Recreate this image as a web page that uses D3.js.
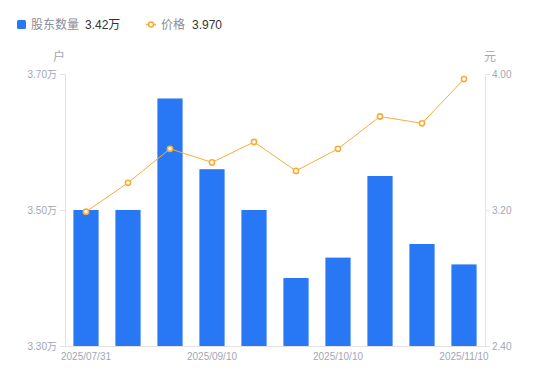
<!DOCTYPE html>
<html>
<head>
  <meta charset="utf-8">
  <title>股东数量</title>
  <script src="https://d3js.org/d3.v7.min.js"></script>
  <style>
    body {
      margin: 0;
      padding: 0;
      background: #fff;
    }
    svg {
      font-family: "Liberation Sans", Arial, "Noto Sans CJK SC", sans-serif;
    }
  </style>
</head>
<body>
  <div id="chart"></div>
  <script>
    // data
    var dates = ["2025/07/31", "2025/08/15", "2025/08/31", "2025/09/10", "2025/09/19",
                 "2025/09/30", "2025/10/10", "2025/10/20", "2025/10/31", "2025/11/10"];
    var holders = [3.50, 3.50, 3.664, 3.56, 3.50, 3.40, 3.43, 3.55, 3.45, 3.42];
    var prices = [3.19, 3.36, 3.56, 3.48, 3.60, 3.43, 3.56, 3.75, 3.71, 3.97];
    var xTickLabels = ["2025/07/31", "2025/09/10", "2025/10/10", "2025/11/10"];
    var leftTicks = [3.30, 3.50, 3.70];
    var rightTicks = [2.40, 3.20, 4.00];

    var width = 550, height = 381;
    var plotL = 65, plotR = 485, plotT = 74, plotB = 346;
    var blue = "#2878f5", orange = "#f7ad3a", grey = "#a3a6b4", axisGrey = "#e3e3e6";
    var fontStack = "\"Liberation Sans\", Arial, \"Noto Sans CJK SC\", sans-serif";

    var svg = d3.select("#chart").append("svg")
      .attr("width", width)
      .attr("height", height);

    var x = d3.scaleBand().domain(dates).range([plotL, plotR]).paddingInner(0.4).paddingOuter(0.2);
    var yL = d3.scaleLinear().domain([3.30, 3.70]).range([plotB, plotT]);
    var yR = d3.scaleLinear().domain([2.40, 4.00]).range([plotB, plotT]);

    // axes
    var axL = svg.append("g").attr("transform", "translate(" + plotL + ",0)")
      .call(d3.axisLeft(yL).tickValues(leftTicks).tickSize(5).tickPadding(3)
        .tickFormat(function(d) { return d3.format(".2f")(d) + "万"; }));
    var axR = svg.append("g").attr("transform", "translate(" + plotR + ",0)")
      .call(d3.axisRight(yR).tickValues(rightTicks).tickSize(5).tickPadding(2)
        .tickFormat(d3.format(".2f")));
    var axB = svg.append("g").attr("transform", "translate(0," + (plotB + 0.5) + ")")
      .call(d3.axisBottom(x).tickValues(xTickLabels).tickSize(0).tickPadding(6));
    axB.select(".domain").attr("d", "M" + plotL + ",0H" + plotR);

    [axL, axR, axB].forEach(function(a) {
      a.select(".domain").attr("stroke", axisGrey);
      a.selectAll(".tick line").attr("stroke", axisGrey);
      a.selectAll(".tick text").attr("fill", grey).attr("font-size", 10)
        .attr("font-family", fontStack);
    });

    // unit labels
    svg.append("text").attr("x", 59).attr("y", 61).attr("text-anchor", "middle")
      .attr("font-size", 12).attr("fill", grey).text("户");
    svg.append("text").attr("x", 490).attr("y", 61).attr("text-anchor", "middle")
      .attr("font-size", 12).attr("fill", grey).text("元");

    // bars
    svg.append("g").selectAll("rect")
      .data(holders)
      .enter().append("rect")
        .attr("x", function(d, i) { return x(dates[i]); })
        .attr("y", function(d) { return yL(d); })
        .attr("width", x.bandwidth())
        .attr("height", function(d) { return plotB - yL(d); })
        .attr("fill", blue);

    // price line
    var cx = function(d, i) { return x(dates[i]) + x.bandwidth() / 2; };
    svg.append("path")
      .datum(prices)
      .attr("fill", "none")
      .attr("stroke", orange)
      .attr("stroke-width", 1)
      .attr("d", d3.line().x(cx).y(function(d) { return yR(d); }));

    svg.append("g").selectAll("circle")
      .data(prices)
      .enter().append("circle")
        .attr("cx", cx)
        .attr("cy", function(d) { return yR(d); })
        .attr("r", 2.6)
        .attr("fill", "#fff")
        .attr("stroke", orange)
        .attr("stroke-width", 1.6);

    // legend
    var lg = svg.append("g").attr("font-size", 12);
    lg.append("rect").attr("x", 17).attr("y", 20).attr("width", 9).attr("height", 9)
      .attr("rx", 1.5).attr("fill", blue);
    lg.append("text").attr("x", 31).attr("y", 29).attr("fill", "#8a8d99").text("股东数量");
    lg.append("text").attr("x", 85).attr("y", 29).attr("fill", "#333").text(d3.format(".2f")(holders[holders.length - 1]) + "万");
    lg.append("line").attr("x1", 146).attr("x2", 156).attr("y1", 24.5).attr("y2", 24.5)
      .attr("stroke", orange).attr("stroke-width", 1.5);
    lg.append("circle").attr("cx", 151).attr("cy", 24.5).attr("r", 2.5)
      .attr("fill", "#fff").attr("stroke", orange).attr("stroke-width", 1.6);
    lg.append("text").attr("x", 161).attr("y", 29).attr("fill", "#8a8d99").text("价格");
    lg.append("text").attr("x", 192).attr("y", 29).attr("fill", "#333").text(d3.format(".3f")(prices[prices.length - 1]));
  </script>
</body>
</html>
